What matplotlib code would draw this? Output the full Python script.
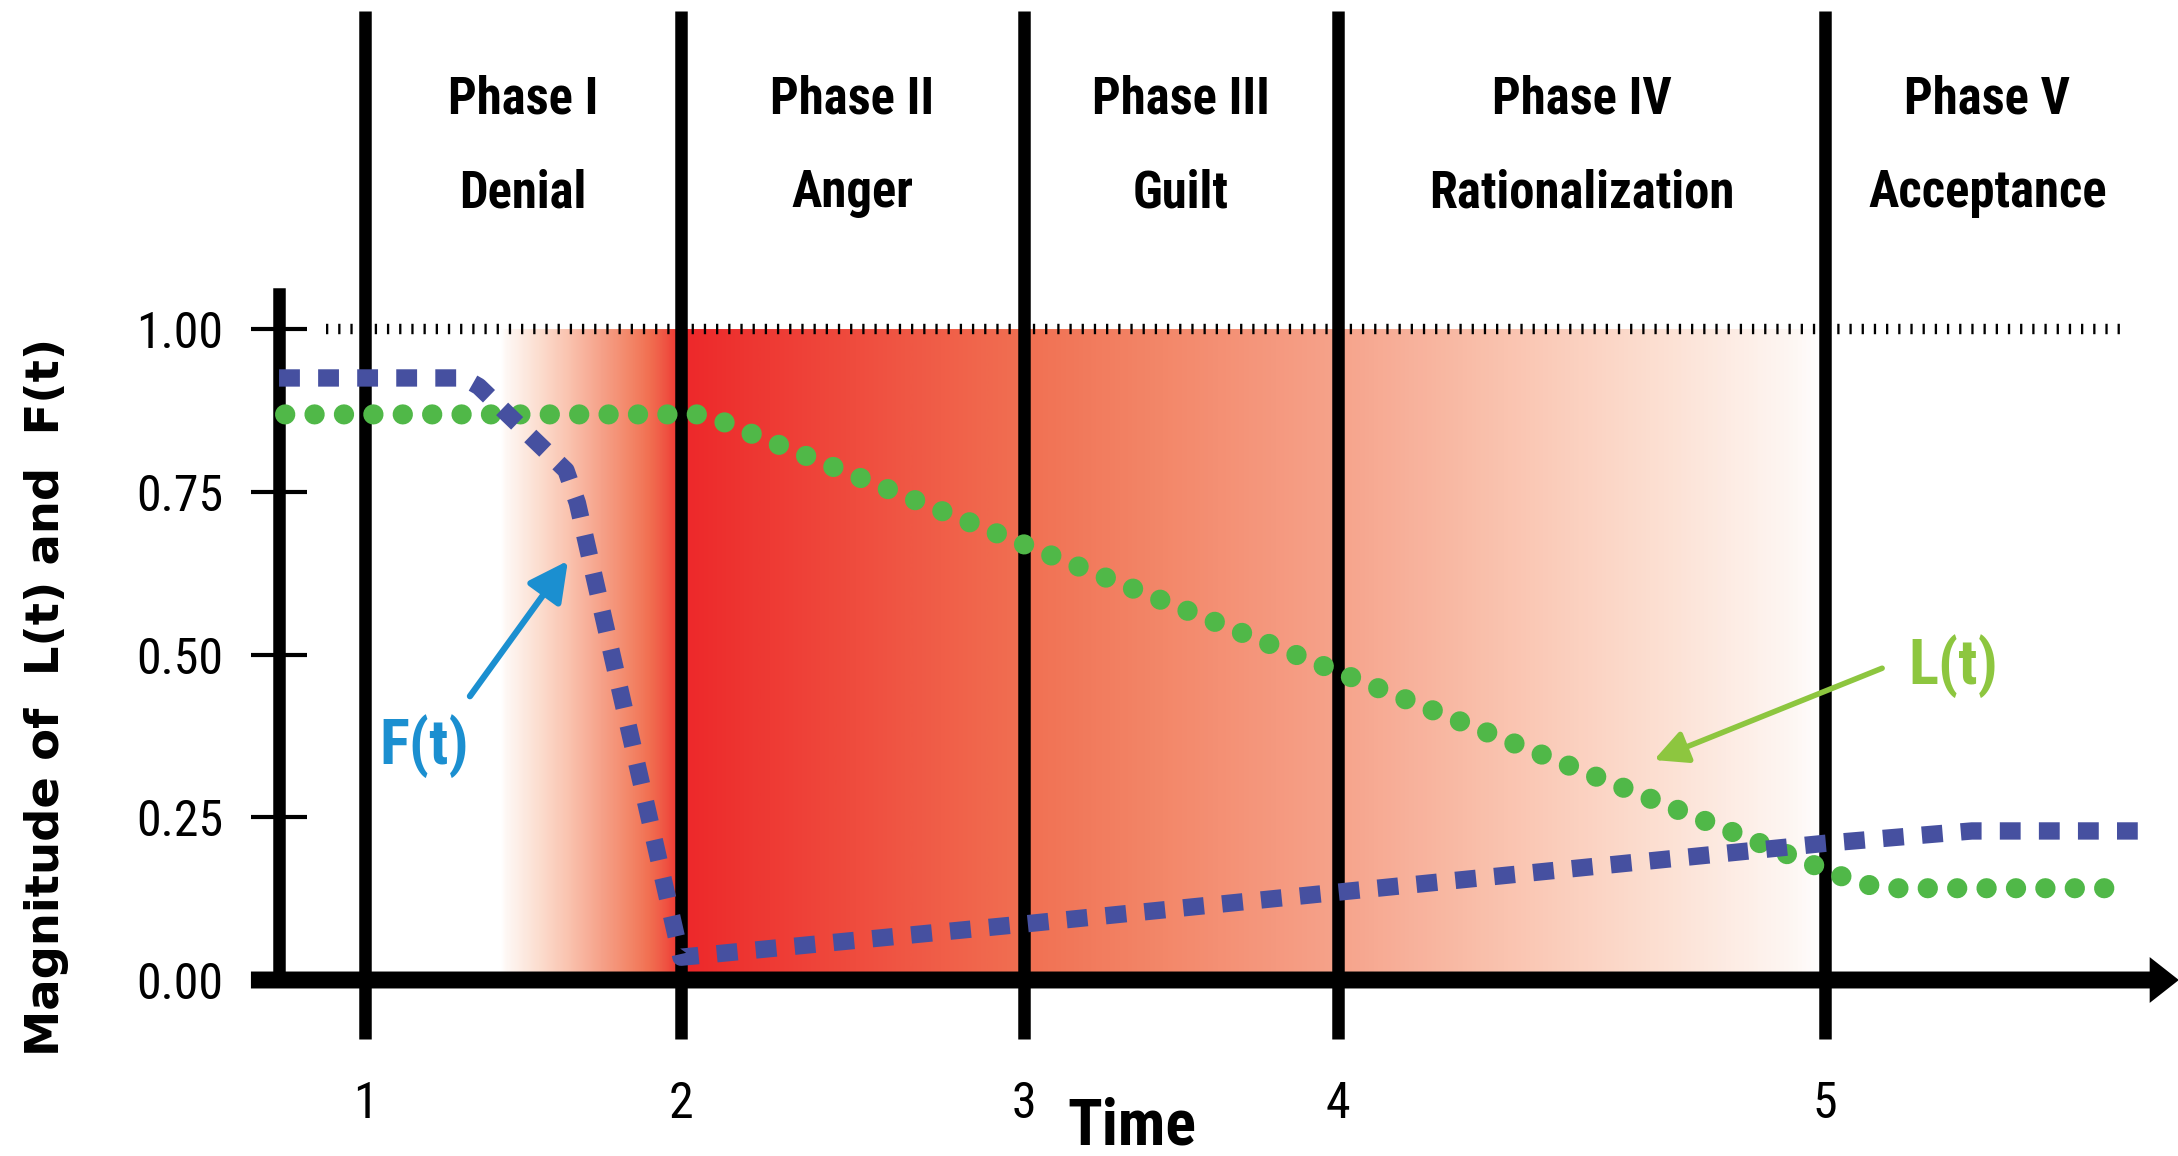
import numpy as np
import matplotlib.pyplot as plt
from matplotlib.colors import LinearSegmentedColormap

# time axis: where the phase boundaries 1..5 sit (the original spacing is uneven)
phase_pos = [1.0, 2.0, 3.085, 4.08, 5.62]
phase_ticks = ['1', '2', '3', '4', '5']
phase_names = ['Phase I', 'Phase II', 'Phase III', 'Phase IV', 'Phase V']
phase_moods = ['Denial', 'Anger', 'Guilt', 'Rationalization', 'Acceptance']

y_ticks = [0.0, 0.25, 0.5, 0.75, 1.0]
y_ticklabels = ['0.00', '0.25', '0.50', '0.75', '1.00']

# F(t), blue dashed
f_t = [0.728, 1.313, 1.36, 1.636, 1.672, 2.0, 3.085, 4.08, 5.62, 6.085, 6.61]
f_val = [0.925, 0.925, 0.912, 0.783, 0.733, 0.035, 0.086, 0.135, 0.21, 0.229, 0.229]

# L(t), green dotted
l_t = [0.747, 2.08, 2.16, 2.25, 5.73, 5.83, 6.59]
l_val = [0.869, 0.869, 0.852, 0.834, 0.148, 0.141, 0.141]

# red band: fades in before t=2, strongest at 2, fades out to phase V
band_start, band_peak, band_end = 1.427, 2.0, 5.62

narrow = ['Roboto Condensed', 'DejaVu Sans']

fig = plt.figure(figsize=(21.78, 11.56), dpi=100)
ax = fig.add_axes([279/2178, 176/1156, 1871/2178, 686/1156])
xlim = (0.7278, 6.6487)
ylim = (0.0, 1.054)

# gradient band
fade = LinearSegmentedColormap.from_list('fade', [
    (0.0, '#ED282A'), (0.3, '#F17052'), (0.42, '#F38769'), (0.57, '#F6A28A'),
    (0.72, '#FAC3AF'), (0.85, '#FCDED0'), (0.98, '#FEF8F5'), (1.0, '#FFFFFF')])
xs = np.linspace(band_start, band_end, 1500)
w = np.where(xs < band_peak,
             ((band_peak - xs) / (band_peak - band_start)) ** 0.7,
             (xs - band_peak) / (band_end - band_peak))
ax.imshow(w[None, :], cmap=fade, vmin=0, vmax=1, extent=[band_start, band_end, 0, 1.0],
          aspect='auto', zorder=0, interpolation='bilinear')

# phase boundary lines
for p in phase_pos:
    ax.plot([p, p], [-0.0906, 1.489], color='black', lw=9, solid_capstyle='butt',
            clip_on=False, zorder=2)

# dotted level at 1.00
ax.plot([0.877, 6.557], [1.0, 1.0], color='black', lw=7.5,
        dashes=(0.22, 0.95), dash_capstyle='butt', zorder=2, clip_on=False)

# curves
ax.plot(l_t, l_val, color='#50B848', lw=14.5, dashes=(0.01, 1.45),
        dash_capstyle='round', zorder=3, clip_on=False)
ax.plot(f_t, f_val, color='#4650A0', lw=12.5, dashes=(1.2, 1.05),
        dash_capstyle='butt', zorder=3, clip_on=False)

# x axis arrow
ax.annotate('', xy=(6.74, 0), xytext=(0.639, 0), annotation_clip=False,
            arrowprops=dict(arrowstyle='simple,head_length=2.1,head_width=3.3,tail_width=1.22',
                            mutation_scale=10, color='black', lw=0,
                            shrinkA=0, shrinkB=0), zorder=5)

# labelled arrows
ax.annotate('', xy=(1.642, 0.644), xytext=(1.332, 0.436),
            arrowprops=dict(arrowstyle='-|>,head_length=1.2,head_width=0.62',
                            mutation_scale=20, lw=4.5, color='#1B8FD0',
                            shrinkA=0, shrinkB=0), zorder=4)
ax.text(1.187, 0.332, 'F(t)', color='#1B8FD0', fontsize=45, fontweight='bold',
        family=narrow, ha='center', va='baseline')
ax.annotate('', xy=(5.079, 0.338), xytext=(5.801, 0.479),
            arrowprops=dict(arrowstyle='-|>,head_length=1.0,head_width=0.5',
                            mutation_scale=20, lw=4, color='#8DC63F',
                            shrinkA=0, shrinkB=0), zorder=4)
ax.text(6.025, 0.455, 'L(t)', color='#8DC63F', fontsize=45, fontweight='bold',
        family=narrow, ha='center', va='baseline')

# phase headers
bounds = phase_pos + [xlim[1]]
for i in range(len(phase_names)):
    xc = (bounds[i] + bounds[i + 1]) / 2
    ax.text(xc, 1.332, phase_names[i], fontsize=36.5, fontweight='bold', family=narrow,
            ha='center', va='baseline', clip_on=False)
    ax.text(xc, 1.187, phase_moods[i], fontsize=36.5, fontweight='bold', family=narrow,
            ha='center', va='baseline', clip_on=False)

# axes styling
for s in ['top', 'right', 'bottom']:
    ax.spines[s].set_visible(False)
ax.spines['left'].set_linewidth(9)
ax.set_xlim(*xlim)
ax.set_ylim(*ylim)
ax.set_yticks(y_ticks)
ax.set_yticklabels(y_ticklabels, family=narrow, fontsize=36)
ax.tick_params(axis='y', direction='inout', length=40, width=3, pad=20)
ax.set_xticks(phase_pos)
ax.set_xticklabels(phase_ticks, family=narrow, fontsize=36)
ax.tick_params(axis='x', length=0, pad=72)

ax.set_xlabel('Time', family=narrow, fontsize=46, fontweight='bold', va='baseline')
ax.xaxis.set_label_coords(0.456, -0.2405)
ax.set_ylabel('Magnitude of  L(t) and  F(t)', family='DejaVu Sans',
              fontsize=33.5, fontweight='bold', va='center', ha='center')
ax.yaxis.label.set_rotation_mode('default')
ax.yaxis.set_label_coords(-0.1245, 0.412)

fig.savefig('out.png', dpi=100)
